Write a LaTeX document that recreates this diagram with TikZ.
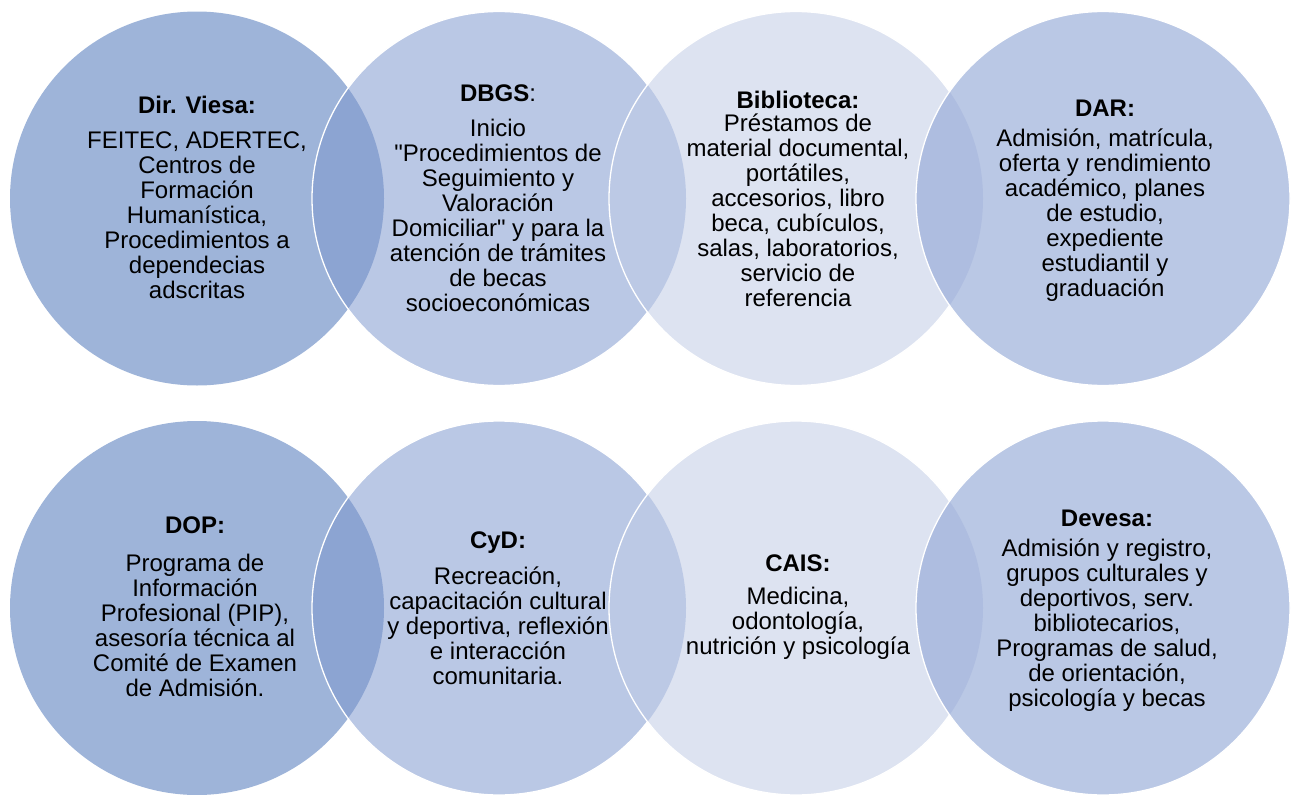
\documentclass[tikz,border=0pt]{standalone}
\usepackage{fontspec}
\setmainfont{Liberation Sans}
\newfontfamily\qfont{Liberation Sans}
\newcommand{\sq}{{\qfont"}}
\definecolor{cA}{HTML}{9EB4D9}
\definecolor{cB}{HTML}{BAC8E5}
\definecolor{cC}{HTML}{DDE3F1}
\definecolor{cD}{HTML}{BAC8E5}
\definecolor{oAB}{HTML}{8CA4D2}
\definecolor{oBC}{HTML}{BCC9E5}
\definecolor{oCD}{HTML}{AEBDE0}
\begin{document}
\begin{tikzpicture}[x=1pt,y=-1pt,
  txt/.style={font=\fontsize{24}{25}\selectfont, align=center, inner sep=0pt, text=black},
  ttl/.style={font=\fontsize{24}{25}\selectfont\bfseries, inner sep=0pt, text=black},
  ring/.style={draw=white, line width=1.3pt}]
\useasboundingbox (0,0) rectangle (1296,795);
\def\R{187}
% ---------- circles, both rows ----------
\foreach \yc in {198.5,608}{
  % circle 1
  \fill[cA] (197,\yc) circle (\R);
  % circle 2
  \fill[cB] (499,\yc) circle (\R);
  \begin{scope}\clip (197,\yc) circle (\R); \fill[oAB] (499,\yc) circle (\R); \end{scope}
  \draw[ring] (499,\yc) circle (\R);
  % circle 3
  \fill[cC] (796,\yc) circle (\R);
  \begin{scope}\clip (499,\yc) circle (\R); \fill[oBC] (796,\yc) circle (\R); \end{scope}
  \draw[ring] (796,\yc) circle (\R);
  % circle 4
  \fill[cD] (1103,\yc) circle (\R);
  \begin{scope}\clip (796,\yc) circle (\R); \fill[oCD] (1103,\yc) circle (\R); \end{scope}
  \draw[ring] (1103,\yc) circle (\R);
}
% ---------- top row texts ----------
\node[ttl] (t1) at (197,105) {Dir. Viesa:};
\node[txt] (b1) at (197,215.5) {FEITEC, ADERTEC,\\Centros de\\Formación\\Humanística,\\Procedimientos a\\dependecias\\adscritas};
\node[ttl] (t2) at (498,93) {DBGS\mdseries:};
\node[txt] (b2) at (498,215.5) {Inicio\\\sq Procedimientos de\\Seguimiento y\\Valoración\\Domiciliar\sq{} y para la\\atención de trámites\\de becas\\socioeconómicas};
\node[ttl] (t3) at (798,100) {Biblioteca:};
\node[txt] (b3) at (798,210.5) {Préstamos de\\material documental,\\portátiles,\\accesorios, libro\\beca, cubículos,\\salas, laboratorios,\\servicio de\\referencia};
\node[ttl] (t4) at (1105,108) {DAR:};
\node[txt] (b4) at (1105,215.5) {Admisión, matrícula,\\oferta y rendimiento\\académico, planes\\de estudio,\\expediente\\estudiantil y\\graduación};
% ---------- bottom row texts ----------
\node[ttl] (t5) at (195,525) {DOP:};
\node[txt] (b5) at (195,625.5) {Programa de\\Información\\Profesional (PIP),\\asesoría técnica al\\Comité de Examen\\de Admisión.};
\node[ttl] (t6) at (498,543) {CyD:};
\node[txt] (b6) at (498,626) {Recreación,\\capacitación cultural\\y deportiva, reflexión\\e interacción\\comunitaria.};
\node[ttl] (t7) at (798,563) {CAIS:};
\node[txt] (b7) at (798,623) {Medicina,\\odontología,\\nutrición y psicología};
\node[ttl] (t8) at (1107,518) {Devesa:};
\node[txt] (b8) at (1107,625.5) {Admisión y registro,\\grupos culturales y\\deportivos, serv.\\bibliotecarios,\\Programas de salud,\\de orientación,\\psicología y becas};
\end{tikzpicture}
\end{document}
